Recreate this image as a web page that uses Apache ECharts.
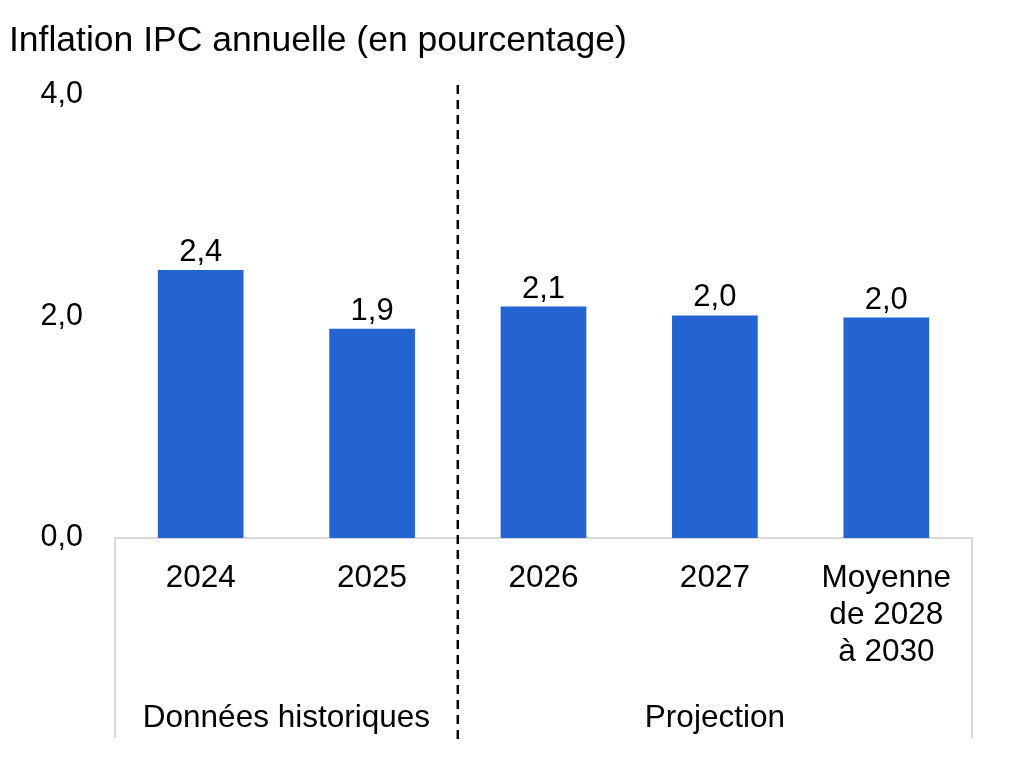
<!DOCTYPE html>
<html>
<head>
<meta charset="utf-8">
<script src="https://cdn.jsdelivr.net/npm/echarts@6/dist/echarts.min.js"></script>
<style>
html,body{margin:0;padding:0;background:#fff;}
#c{width:1013px;height:774px;}
</style>
</head>
<body>
<div id="c"></div>
<script>
const titleText = 'Inflation IPC annuelle (en pourcentage)';
const categories = ['2024', '2025', '2026', '2027', 'Moyenne\nde 2028\nà 2030'];
const values = [2.42, 1.89, 2.09, 2.01, 1.99];
const groupLabels = { 0.5: 'Données historiques', 3: 'Projection' };
const groupBoundaries = [-0.5, 1.5, 4.5];
const yTicks = [0, 2, 4];

const FONT = '"Liberation Sans", Arial, Helvetica, sans-serif';
const fmt = v => v.toFixed(1).replace('.', ',');

const chart = echarts.init(document.getElementById('c'), null, { renderer: 'canvas' });
const option = {
  backgroundColor: '#ffffff',
  animation: false,
  textStyle: { fontFamily: FONT, color: '#000' },
  title: {
    text: titleText,
    left: 4,
    top: 18,
    textStyle: { fontFamily: FONT, fontSize: 35.5, fontWeight: 'normal', color: '#000' }
  },
  grid: { left: 115, right: 41, top: 95, bottom: 236, containLabel: false },
  xAxis: [
    {
      type: 'category',
      data: categories,
      axisLine: { show: true, lineStyle: { color: '#d9d9d9', width: 2 } },
      axisTick: { show: false },
      axisLabel: { fontFamily: FONT, fontSize: 31.5, color: '#000', margin: 22, lineHeight: 37, interval: 0 }
    },
    {
      type: 'value',
      position: 'bottom',
      min: -0.5,
      max: 4.5,
      interval: 0.5,
      axisLine: { show: false },
      axisTick: { show: false },
      splitLine: { show: false },
      axisLabel: {
        fontFamily: FONT, fontSize: 31.5, color: '#000', margin: 164,
        showMinLabel: true, showMaxLabel: true,
        formatter: v => groupLabels[v] || ''
      }
    }
  ],
  yAxis: {
    type: 'value',
    min: yTicks[0],
    max: yTicks[yTicks.length - 1],
    interval: 2,
    axisLine: { show: false },
    axisTick: { show: false },
    splitLine: { show: false },
    axisLabel: { fontFamily: FONT, fontSize: 30.5, color: '#000', margin: 32, formatter: v => fmt(v) }
  },
  series: [{
    type: 'bar',
    data: values,
    barWidth: '50%',
    itemStyle: { color: '#2364D2' },
    label: {
      show: true, position: 'top', distance: 2,
      fontFamily: FONT, fontSize: 31, color: '#000',
      formatter: p => fmt(p.value)
    }
  }]
};
chart.setOption(option);

const y0 = chart.convertToPixel({ yAxisIndex: 0 }, 0);
const xs = groupBoundaries.map(b => chart.convertToPixel({ xAxisIndex: 1 }, b));
const graphics = [];
[xs[0], xs[2]].forEach(x => {
  graphics.push({
    type: 'line', silent: true,
    shape: { x1: x, y1: y0, x2: x, y2: 738 },
    style: { stroke: '#d9d9d9', lineWidth: 2 }
  });
});
graphics.push({
  type: 'line', silent: true, z: 10,
  shape: { x1: xs[1], y1: 85, x2: xs[1], y2: 740 },
  style: { stroke: '#000', lineWidth: 2.5, lineDash: [9, 6] }
});
chart.setOption({ graphic: graphics });
</script>
</body>
</html>
